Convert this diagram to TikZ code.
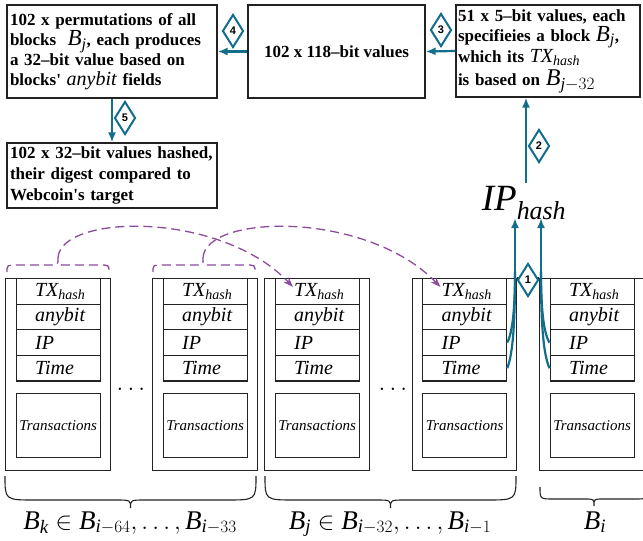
\documentclass[tikz,border=0pt]{standalone}
\usepackage{amsmath}
\usepackage{fontspec}
\setmainfont{Liberation Serif}
\setsansfont{Liberation Sans}
\usetikzlibrary{arrows.meta,shapes.geometric}
\definecolor{tealc}{HTML}{136E8C}
\definecolor{purp}{HTML}{8C4B9B}
\definecolor{ink}{HTML}{222222}
\newcommand{\mi}[1]{\textnormal{\itshape #1}}
\newcommand{\blk}[2]{%
  \node[outerbox] (#1o) at (#2,278) {};
  \node[fieldbox] (#1t) at (#2+10.5,278) {\hspace*{19pt}$\mi{TX}_{\mi{hash}}$};
  \node[fieldbox] (#1a) at (#2+10.5,303.6) {\hspace*{19pt}anybit};
  \node[fieldbox] (#1p) at (#2+10.5,329.2) {\hspace*{19pt}IP};
  \node[fieldbox] (#1m) at (#2+10.5,354.8) {\hspace*{19pt}Time};
  \node[transbox] (#1x) at (#2+10.5,393) {Transactions};
  \coordinate (#1in) at (#2+29,287);
}
\setlength{\lineskiplimit}{-100pt}
\begin{document}
\begin{tikzpicture}[x=1pt,y=-1pt,
  outerbox/.style={draw=ink, line width=1.2pt, minimum width=104.5pt, minimum height=192pt, anchor=north west, inner sep=0pt},
  fieldbox/.style={draw=ink, line width=1.2pt, minimum height=25.6pt, text width=84pt, inner xsep=0pt, inner ysep=0pt, align=left, anchor=north west, font=\fontsize{20}{20}\selectfont\itshape},
  transbox/.style={draw=ink, line width=1.2pt, minimum width=84pt, minimum height=64pt, inner sep=0pt, anchor=north west, font=\fontsize{15}{15}\selectfont\itshape},
  topbox/.style={draw=ink, line width=1.2pt, inner xsep=3pt, inner ysep=0pt, align=left, font=\fontsize{17}{20}\selectfont\bfseries},
  dia/.style={diamond, draw=tealc, line width=2pt, fill=white, aspect=0.65, minimum width=21pt, minimum height=33pt, inner sep=0pt, font=\sffamily\bfseries\fontsize{11}{11}\selectfont},
  tarrow/.style={draw=tealc, line width=2.2pt, -{Latex[length=10pt,width=8pt]}},
  tline/.style={draw=tealc, line width=2.2pt},
  parrow/.style={draw=purp, line width=1.3pt, dash pattern=on 9pt off 5pt, -{Stealth[length=10pt,width=7pt]}},
  pline/.style={draw=purp, line width=1.3pt, dash pattern=on 9pt off 5pt},
  brc/.style={draw=ink, line width=1.1pt},
  lbl/.style={anchor=base, inner sep=0pt, font=\fontsize{27}{27}\selectfont}]
\useasboundingbox (0,0) rectangle (643,541);
\clip (0,0) rectangle (643,541);

% top boxes
\node[topbox, minimum width=210pt, minimum height=93pt, text width=204pt] (abox) at (112,51.5)
  {102 x permutations of all\\
   blocks \ {\fontsize{23}{20}\selectfont$\mi{B}_{\mi{j}}$}, each produces\\
   a 32--bit value based on\\
   blocks\textquotesingle\ {\fontsize{20}{20}\selectfont\mi{anybit}} fields};
\node[topbox, minimum width=177pt, minimum height=93pt, align=center] (bbox) at (336.5,51.5)
  {102 x 118--bit values};
\node[topbox, minimum width=184pt, minimum height=92pt, text width=180pt, inner xsep=2pt] (cbox) at (548,51)
  {51 x 5--bit values, each\\
   specifieies a block {\fontsize{23}{20}\selectfont$\mi{B}_{\mi{j}}$},\\
   which its {\fontsize{20}{20}\selectfont$\mi{TX}_{\mi{hash}}$}\\[3pt]
   is based on {\fontsize{24}{20}\selectfont$\mi{B}_{\mi{j}-32}$}};
\node[topbox, minimum width=210pt, minimum height=65pt, text width=204pt, font=\fontsize{17}{21}\selectfont\bfseries] (dbox) at (112,175.5)
  {102 x 32--bit values hashed,\\
   their digest compared to\\
   Webcoin\textquotesingle s target};

% IP hash
\node[anchor=base, inner sep=0pt, font=\fontsize{37}{37}\selectfont] (iph) at (524,210) {$\mi{IP}_{\mi{hash}}$};

% blocks
\blk{b1}{5}
\blk{b2}{152}
\blk{b3}{264}
\blk{b4}{411.5}
\blk{b5}{539}
\draw[ink, line width=1.2pt] (b4o.north east) -- (b5o.north west);

\node[anchor=base, font=\fontsize{25}{25}\selectfont] (dots1) at (131,390) {$\ldots$};
\node[anchor=base, font=\fontsize{25}{25}\selectfont] (dots2) at (393,390) {$\ldots$};

% top arrows
\draw[tarrow] (cbox.west) -- (bbox.east);
\draw[tarrow] (bbox.west) -- (abox.east);
\draw[tarrow] (abox.south) -- (dbox.north);
\coordinate (a2s) at (526,183);
\draw[tarrow] (a2s) -- (a2s |- cbox.south);

\node[dia] (d3) at (441,30) {3};
\node[dia] (d4) at (233,31) {4};
\node[dia] (d5) at (125,118) {5};
\node[dia] (d2) at (539,146) {2};
\node[dia] (d1) at (528,280) {1};

% arrows 1
\coordinate (l1m) at (515,272);
\coordinate (l1t) at (515,218);
\coordinate (r1m) at (541,272);
\coordinate (r1t) at (541,218);
\draw[tline] (b4p.east) .. controls (513,332) and (515,305) .. (l1m);
\draw[tline] (b4m.east) .. controls (514,352) and (515,310) .. (l1m);
\draw[tarrow] (l1m) -- (l1t);
\draw[tline] (b5p.west) .. controls (543,332) and (541,305) .. (r1m);
\draw[tline] (b5m.west) .. controls (542,352) and (541,310) .. (r1m);
\draw[tarrow] (r1m) -- (r1t);

% dashed braces and arcs
\draw[pline] (7,272) .. controls (7,265) .. (17,265) -- (50,265) .. controls (58,265) .. (58,258) .. controls (58,265) .. (66,265) -- (99,265) .. controls (109,265) .. (109,272);
\draw[pline] (153,272) .. controls (153,265) .. (163,265) -- (195,265) .. controls (203,265) .. (203,258) .. controls (203,265) .. (211,265) -- (245,265) .. controls (255,265) .. (255,272);
\coordinate (ap1) at (58,258);
\coordinate (ap2) at (203,258);
\draw[parrow] (ap1) .. controls (60,214) and (220,210) .. (b3in);
\draw[parrow] (ap2) .. controls (205,214) and (366,210) .. (b4in);

% bottom braces
\draw[brc] (5,476) .. controls (5,500) .. (35,500) -- (116,500) .. controls (130.5,500) .. (130.5,508) .. controls (130.5,500) .. (145,500) -- (226,500) .. controls (256,500) .. (256,476);
\draw[brc] (265,476) .. controls (265,500) .. (295,500) -- (376,500) .. controls (390.5,500) .. (390.5,508) .. controls (390.5,500) .. (405,500) -- (486,500) .. controls (516,500) .. (516,476);
\draw[brc] (540,487) .. controls (540,499) .. (554,499) -- (585,499) .. controls (594,499) .. (594,506) .. controls (594,499) .. (603,499) -- (634,499) .. controls (648,499) .. (648,487);

\node[lbl] (L1) at (130,529) {$\mi{B}_{\mi{k}}\in\mi{B}_{\mi{i}-64},\ldots,\mi{B}_{\mi{i}-33}$};
\node[lbl] (L2) at (390,529) {$\mi{B}_{\mi{j}}\in\mi{B}_{\mi{i}-32},\ldots,\mi{B}_{\mi{i}-1}$};
\node[lbl] (L3) at (595,529) {$\mi{B}_{\mi{i}}$};
\end{tikzpicture}
\end{document}
